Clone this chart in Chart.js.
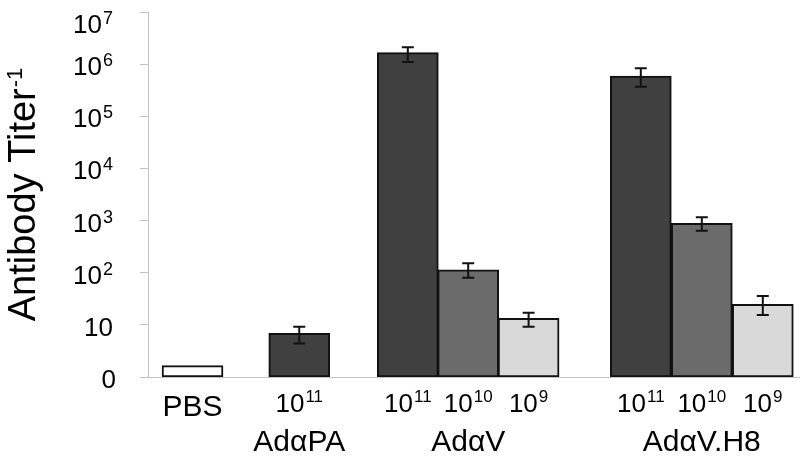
<!DOCTYPE html>
<html>
<head>
<meta charset="utf-8">
<script src="https://cdn.jsdelivr.net/npm/chart.js@4.4.1/dist/chart.umd.min.js"></script>
<style>
  html, body { margin: 0; padding: 0; background: #ffffff; }
  canvas { display: block; }
</style>
</head>
<body>
<canvas id="c" width="800" height="461"></canvas>
<script>
// ---- data ----
const groupNames = ['PBS', 'AdαPA', 'AdαV', 'AdαV.H8'];
const barGroup   = [0, 1, 2, 2, 2, 3, 3, 3];
const doseExp    = [null, 11, 11, 10, 9, 11, 10, 9];
const titer      = [1.65, 6.9, 1.66e6, 113, 13.4, 5.9e5, 887, 24.8];
const errLow     = [null, 4.4, 1.1e6, 80, 9.2, 3.7e5, 640, 15.5];
const errHigh    = [null, 9.2, 2.1e6, 152, 17.1, 8.3e5, 1156, 35.8];
const yTickValues = [1, 10, 1e2, 1e3, 1e4, 1e5, 1e6, 1e7];
const yTitle = 'Antibody Titer';
const yTitleSup = '-1';

// ---- layout (bar centres along the x axis, in bar-width units) ----
const barPos = [0.73, 2.48, 4.26, 5.25, 6.24, 8.08, 9.08, 10.08];
const xRange = [0, 10.69];

// ---- styles ----
const FONT = "'Liberation Sans', Arial, sans-serif";
const doseColor = { 11: '#404040', 10: '#6b6b6b', 9: '#d9d9d9' };
const axisColor = '#c4c4c4';

function drawSup(ctx, base, sup, x, baseline, align, baseSize, supSize, supRise) {
  ctx.font = baseSize + 'px ' + FONT;
  const wb = ctx.measureText(base).width;
  ctx.font = supSize + 'px ' + FONT;
  const ws = sup ? ctx.measureText(sup).width + 1 : 0;
  const total = wb + ws;
  let start = x;
  if (align === 'right') start = x - total;
  else if (align === 'center') start = x - total / 2;
  ctx.textAlign = 'left';
  ctx.textBaseline = 'alphabetic';
  ctx.font = baseSize + 'px ' + FONT;
  ctx.fillText(base, start, baseline);
  if (sup) {
    ctx.font = supSize + 'px ' + FONT;
    ctx.fillText(sup, start + wb + 1, baseline - supRise);
  }
}

const errorBars = {
  id: 'errorBars',
  afterDatasetsDraw(chart) {
    const ctx = chart.ctx;
    const ys = chart.scales.y;
    const meta = chart.getDatasetMeta(0);
    ctx.save();
    ctx.strokeStyle = '#111111';
    ctx.lineWidth = 2;
    meta.data.forEach((el, i) => {
      if (errLow[i] == null) return;
      const x = el.x;
      const y1 = ys.getPixelForValue(errHigh[i]);
      const y2 = ys.getPixelForValue(errLow[i]);
      ctx.beginPath();
      ctx.moveTo(x, y1); ctx.lineTo(x, y2);
      ctx.moveTo(x - 6, y1); ctx.lineTo(x + 6, y1);
      ctx.moveTo(x - 6, y2); ctx.lineTo(x + 6, y2);
      ctx.stroke();
    });
    ctx.restore();
  }
};

const labels = {
  id: 'labels',
  afterDraw(chart) {
    const ctx = chart.ctx;
    const ys = chart.scales.y;
    const meta = chart.getDatasetMeta(0);
    ctx.save();
    ctx.fillStyle = '#000000';
    // y tick labels
    yTickValues.forEach(v => {
      const t = ys.getPixelForValue(v);
      const baseline = Math.max(t + 11, 33);
      const e = Math.round(Math.log10(v));
      if (e === 0) drawSup(ctx, '0', '', 116, baseline, 'right', 26, 18, 9);
      else if (e === 1) drawSup(ctx, '10', '', 113, baseline, 'right', 26, 18, 9);
      else drawSup(ctx, '10', String(e), 113, baseline, 'right', 26, 18, 9);
    });
    // dose labels
    meta.data.forEach((el, i) => {
      if (doseExp[i] == null) {
        drawSup(ctx, groupNames[barGroup[i]], '', el.x, 416, 'center', 30, 17, 0);
      } else {
        drawSup(ctx, '10', String(doseExp[i]), el.x, 412, 'center', 26, 17, 10.5);
      }
    });
    // group labels
    groupNames.forEach((name, g) => {
      const xs = meta.data.filter((el, i) => barGroup[i] === g && doseExp[i] != null).map(el => el.x);
      if (!xs.length) return;
      const cx = (Math.min(...xs) + Math.max(...xs)) / 2;
      drawSup(ctx, name, '', cx, 451, 'center', 30, 17, 0);
    });
    // y title
    const ca = chart.chartArea;
    ctx.translate(35, (ca.top + ca.bottom) / 2);
    ctx.rotate(-Math.PI / 2);
    ctx.font = '38px ' + FONT;
    const w1 = ctx.measureText(yTitle).width;
    ctx.font = '22px ' + FONT;
    const w2 = ctx.measureText(yTitleSup).width;
    const st = -(w1 + w2 + 1) / 2;
    ctx.textAlign = 'left';
    ctx.textBaseline = 'alphabetic';
    ctx.font = '38px ' + FONT;
    ctx.fillText(yTitle, st, 0);
    ctx.font = '22px ' + FONT;
    ctx.fillText(yTitleSup, st + w1 + 1, -13);
    ctx.restore();
  }
};

new Chart(document.getElementById('c'), {
  type: 'bar',
  data: {
    datasets: [{
      data: barPos.map((x, i) => ({ x: x, y: titer[i] })),
      backgroundColor: doseExp.map(d => d == null ? '#ffffff' : doseColor[d]),
      borderColor: '#111111',
      borderWidth: 2,
      borderSkipped: false,
      barThickness: 61
    }]
  },
  options: {
    responsive: false,
    animation: false,
    devicePixelRatio: 1,
    layout: { padding: { top: 12, right: 0, left: 0, bottom: 0 } },
    plugins: { legend: { display: false }, tooltip: { enabled: false } },
    scales: {
      x: {
        type: 'linear',
        min: xRange[0],
        max: xRange[1],
        offset: false,
        ticks: { display: false },
        grid: { display: false },
        border: { display: true, color: axisColor, width: 1 },
        afterFit(s) { s.height = 84; }
      },
      y: {
        type: 'logarithmic',
        min: 1,
        max: 1e7,
        ticks: { display: false },
        afterBuildTicks(s) { s.ticks = yTickValues.map(v => ({ value: v })); },
        grid: { display: true, drawOnChartArea: false, drawTicks: true, tickLength: 8, color: axisColor },
        border: { display: true, color: axisColor, width: 1 },
        afterFit(s) { s.width = 148; }
      }
    }
  },
  plugins: [errorBars, labels]
});
</script>
</body>
</html>
